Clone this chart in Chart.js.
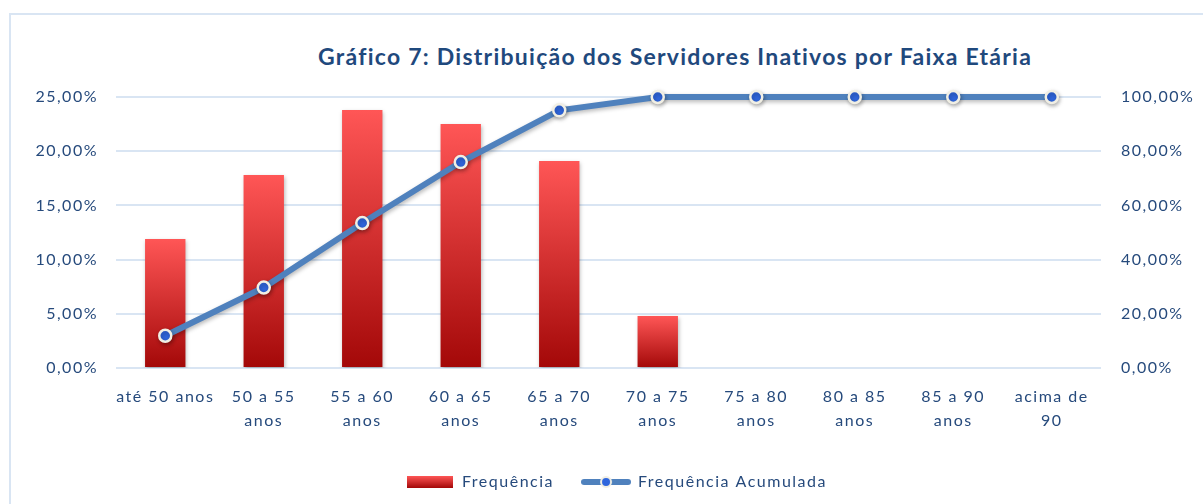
<!DOCTYPE html>
<html lang="pt">
<head>
<meta charset="utf-8">
<script src="https://cdn.jsdelivr.net/npm/chart.js@4"></script>
<style>
  html, body { margin: 0; padding: 0; background: #fff; }
  #wrap { position: relative; width: 1203px; height: 504px; overflow: hidden; }
  #frame {
    position: absolute; left: 9px; top: 13px; width: 1400px; height: 600px;
    border-top: 2px solid #d9e5f3; border-left: 2px solid #d9e5f3;
  }
  #titulo {
    position: absolute; left: 318px; top: 42px;
    font: bold 23px Lato, sans-serif; letter-spacing: 1.25px;
    color: #1f497d; white-space: nowrap;
  }
  canvas { position: absolute; left: 0; top: 0; }
</style>
</head>
<body>
<div id="wrap">
  <div id="frame"></div>
  <div id="titulo">Gráfico 7: Distribuição dos Servidores Inativos por Faixa Etária</div>
  <canvas id="grafico" width="1203" height="504"></canvas>
</div>
<script>
// Faixas etárias e percentuais
const faixas = [
  'até 50 anos', ['50 a 55', 'anos'], ['55 a 60', 'anos'], ['60 a 65', 'anos'],
  ['65 a 70', 'anos'], ['70 a 75', 'anos'], ['75 a 80', 'anos'], ['80 a 85', 'anos'],
  ['85 a 90', 'anos'], ['acima de', '90']
];
const frequencia = [11.9, 17.8, 23.8, 22.5, 19.1, 4.8, 0, 0, 0, 0];
const acumulada = [11.9, 29.7, 53.5, 76.0, 95.1, 100, 100, 100, 100, 100];
const ticksEsquerda = [0, 5, 10, 15, 20, 25];
const ticksDireita = [0, 20, 40, 60, 80, 100];

const corTexto = '#264a7c';
const fmt = v => v.toFixed(2).replace('.', ',') + '%';

// gradiente vermelho de cada barra (topo claro, base escura)
function corBarra(ctx) {
  const chart = ctx.chart;
  const area = chart.chartArea;
  if (!area || ctx.raw == null) return '#e03030';
  const y = chart.scales.y;
  const topo = y.getPixelForValue(ctx.raw);
  const base = y.getPixelForValue(0);
  if (base - topo < 1) return '#a30808';
  const g = chart.ctx.createLinearGradient(0, topo, 0, base);
  g.addColorStop(0, '#ff5656');
  g.addColorStop(1, '#a30808');
  return g;
}

// simbolos da legenda
function simboloBarra() {
  const c = document.createElement('canvas');
  c.width = 46; c.height = 12;
  const x = c.getContext('2d');
  const g = x.createLinearGradient(0, 0, 0, 12);
  g.addColorStop(0, '#ff5656');
  g.addColorStop(1, '#a30808');
  x.fillStyle = g;
  x.fillRect(0, 0, 46, 12);
  return c;
}
function simboloLinha() {
  const c = document.createElement('canvas');
  c.width = 50; c.height = 14;
  const x = c.getContext('2d');
  x.strokeStyle = '#4f81bd';
  x.lineWidth = 6;
  x.lineCap = 'round';
  x.beginPath(); x.moveTo(3, 7); x.lineTo(47, 7); x.stroke();
  x.beginPath(); x.arc(25, 7, 5, 0, Math.PI * 2);
  x.fillStyle = '#2f66dd'; x.fill();
  x.lineWidth = 2; x.strokeStyle = '#f1efe4'; x.stroke();
  return c;
}

// espaçamento das letras, como no original
const espacamento = {
  id: 'espacamento',
  beforeUpdate(chart) { chart.ctx.letterSpacing = '1.5px'; },
  beforeDraw(chart) { chart.ctx.letterSpacing = '1.5px'; }
};

// sombra leve nos datasets
const sombra = {
  id: 'sombra',
  beforeDatasetDraw(chart) {
    const c = chart.ctx;
    c.save();
    c.shadowColor = 'rgba(0,0,0,0.28)';
    c.shadowBlur = 4;
    c.shadowOffsetX = 1;
    c.shadowOffsetY = 2;
  },
  afterDatasetDraw(chart) { chart.ctx.restore(); }
};

new Chart(document.getElementById('grafico'), {
  type: 'bar',
  data: {
    labels: faixas,
    datasets: [
      {
        type: 'line',
        label: 'Frequência Acumulada',
        data: acumulada,
        yAxisID: 'y1',
        borderColor: '#4f81bd',
        borderWidth: 6,
        backgroundColor: '#2f66dd',
        pointBackgroundColor: '#2f66dd',
        pointBorderColor: '#f1efe4',
        pointBorderWidth: 2.5,
        pointRadius: 6,
        tension: 0,
        clip: false,
        order: 0
      },
      {
        label: 'Frequência',
        data: frequencia,
        yAxisID: 'y',
        backgroundColor: corBarra,
        barPercentage: 0.41,
        categoryPercentage: 1,
        order: 1
      }
    ]
  },
  options: {
    responsive: false,
    animation: false,
    layout: { padding: { top: 97, bottom: 4, left: 30, right: 0 } },
    plugins: {
      title: { display: false },
      tooltip: { enabled: false },
      legend: {
        position: 'bottom',
        labels: {
          color: corTexto,
          font: { family: 'Lato', size: 16 },
          usePointStyle: true,
          pointStyleWidth: 48,
          boxHeight: 14,
          padding: 28,
          generateLabels: chart => [
            { text: 'Frequência', pointStyle: simboloBarra(), fontColor: corTexto, datasetIndex: 1, lineWidth: 0 },
            { text: 'Frequência Acumulada', pointStyle: simboloLinha(), fontColor: corTexto, datasetIndex: 0, lineWidth: 0 }
          ]
        }
      }
    },
    scales: {
      x: {
        grid: { display: false },
        border: { display: false },
        ticks: {
          color: corTexto,
          font: { family: 'Lato', size: 16, lineHeight: 1.5 },
          padding: 9,
          maxRotation: 0,
          autoSkip: false
        },
        afterFit: s => { s.height = 78; }
      },
      y: {
        position: 'left',
        min: 0,
        max: 25,
        afterBuildTicks: s => { s.ticks = ticksEsquerda.map(v => ({ value: v })); },
        grid: { color: '#d9e5f3', lineWidth: 2, drawTicks: false },
        border: { display: false },
        ticks: {
          color: corTexto,
          font: { family: 'Lato', size: 16 },
          padding: 18,
          callback: v => fmt(v)
        },
        afterFit: s => { s.width = 86; }
      },
      y1: {
        position: 'right',
        min: 0,
        max: 100,
        afterBuildTicks: s => { s.ticks = ticksDireita.map(v => ({ value: v })); },
        grid: { display: false, drawTicks: false },
        border: { display: false },
        ticks: {
          color: corTexto,
          font: { family: 'Lato', size: 16 },
          padding: 20,
          callback: v => fmt(v)
        },
        afterFit: s => { s.width = 102; }
      }
    }
  },
  plugins: [espacamento, sombra]
});
</script>
</body>
</html>
